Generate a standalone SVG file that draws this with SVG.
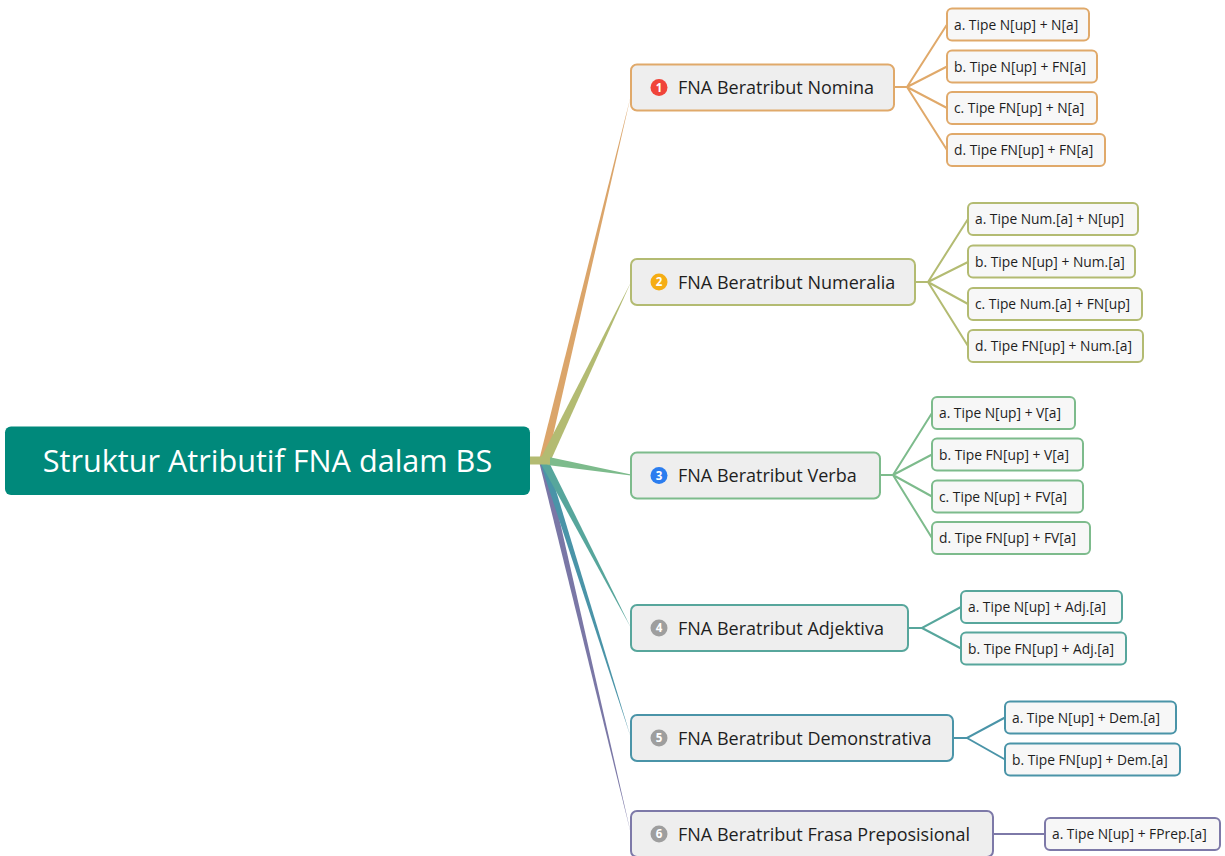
<svg xmlns="http://www.w3.org/2000/svg" width="1225" height="856" viewBox="0 0 1225 856">
<style>
.main{fill:#EEEEEE;stroke-width:2}
.sub{fill:#F7F7F7;stroke-width:2}
.mt{font-family:"Open Sans","Liberation Sans",sans-serif;font-size:18px;fill:#1E1E1E}
.st{font-family:"Open Sans","Liberation Sans",sans-serif;font-size:13.8px;fill:#1E1E1E}
.num{font-family:"Open Sans","Liberation Sans",sans-serif;font-size:11.5px;font-weight:bold;fill:#FFFFFF;text-anchor:middle}
.ln{fill:none;stroke-width:2}
.c1{stroke:#E0A96A}.c2{stroke:#B3BB72}.c3{stroke:#7DBB8C}.c4{stroke:#57A69C}.c5{stroke:#4A94A8}.c6{stroke:#7D79A8}
</style>
<rect width="1225" height="856" fill="#FFFFFF"/>
<g id="connectors">
<polygon points="546.4,462.2 539.6,463.8 631,834" fill="#7A77A6"/>
<polygon points="547.3,461.9 540.7,464.1 631,738" fill="#4A94A8"/>
<polygon points="548.5,461.2 541.5,464.8 631,628" fill="#57A69C"/>
<polygon points="546.9,461.9 539.1,460.1 631,95" fill="#DBA56A"/>
<polygon points="549.5,463.2 540.5,458.8 631,282" fill="#B3BB72"/>
<polygon points="547.3,464.9 548.7,457.1 631.1,474.5 630.9,475.5" fill="#7DBB8C"/>
<rect x="530" y="456.5" width="20" height="8" fill="#B3BB72"/>
<path class="ln c1" d="M894,87 H907 L947,24.5 M907,87 L947,66.5 M907,87 L947,108 M907,87 L947,150"/>
<path class="ln c2" d="M915,282 H928 L968,219 M928,282 L968,262 M928,282 L968,304 M928,282 L968,346"/>
<path class="ln c3" d="M880,475 H893 L932,413 M893,475 L932,454.5 M893,475 L932,496.5 M893,475 L932,538"/>
<path class="ln c4" d="M908,628 H922 L961,607 M922,628 L961,648.5"/>
<path class="ln c5" d="M953,738 H967 L1005,717.5 M967,738 L1005,759.5"/>
<path class="ln c6" d="M993,834 H1045"/>
</g>
<g id="root">
<rect x="5" y="426.5" width="525" height="68.5" rx="6" fill="#00897B"/>
<text x="267.5" y="471.5" font-family="'Open Sans','Liberation Sans',sans-serif" font-size="30.6" fill="#FFFFFF" text-anchor="middle">Struktur Atributif FNA dalam BS</text>
</g>
<g id="n1">
<rect class="main c1" x="631" y="64.5" width="263" height="46" rx="6"/>
<circle cx="659" cy="87.5" r="8.5" fill="#F0443A"/><text class="num" x="659" y="91.5">1</text>
<text class="mt" x="678" y="94">FNA Beratribut Nomina</text>
</g>
<g id="n1a"><rect class="sub c1" x="947" y="8.5" width="142" height="32" rx="5"/><text class="st" x="954" y="29.5">a. Tipe N[up] + N[a]</text></g>
<g id="n1b"><rect class="sub c1" x="947" y="50.5" width="150" height="32" rx="5"/><text class="st" x="954" y="71.5">b. Tipe N[up] + FN[a]</text></g>
<g id="n1c"><rect class="sub c1" x="947" y="92" width="150" height="32" rx="5"/><text class="st" x="954" y="113">c. Tipe FN[up] + N[a]</text></g>
<g id="n1d"><rect class="sub c1" x="947" y="134" width="158" height="32" rx="5"/><text class="st" x="954" y="155">d. Tipe FN[up] + FN[a]</text></g>
<g id="n2">
<rect class="main c2" x="631" y="259" width="284" height="46" rx="6"/>
<circle cx="659" cy="282" r="8.5" fill="#F5AD14"/><text class="num" x="659" y="286">2</text>
<text class="mt" x="678" y="288.5">FNA Beratribut Numeralia</text>
</g>
<g id="n2a"><rect class="sub c2" x="968" y="203" width="170" height="32" rx="5"/><text class="st" x="975" y="224">a. Tipe Num.[a] + N[up]</text></g>
<g id="n2b"><rect class="sub c2" x="968" y="245.5" width="167" height="32" rx="5"/><text class="st" x="975" y="266.5">b. Tipe N[up] + Num.[a]</text></g>
<g id="n2c"><rect class="sub c2" x="968" y="288" width="174" height="32" rx="5"/><text class="st" x="975" y="309">c. Tipe Num.[a] + FN[up]</text></g>
<g id="n2d"><rect class="sub c2" x="968" y="330" width="175" height="32" rx="5"/><text class="st" x="975" y="351">d. Tipe FN[up] + Num.[a]</text></g>
<g id="n3">
<rect class="main c3" x="631" y="452.5" width="249" height="46" rx="6"/>
<circle cx="659" cy="475.5" r="8.5" fill="#2B7DEF"/><text class="num" x="659" y="479.5">3</text>
<text class="mt" x="678" y="482">FNA Beratribut Verba</text>
</g>
<g id="n3a"><rect class="sub c3" x="932" y="397" width="143" height="32" rx="5"/><text class="st" x="939" y="418">a. Tipe N[up] + V[a]</text></g>
<g id="n3b"><rect class="sub c3" x="932" y="438.5" width="151" height="32" rx="5"/><text class="st" x="939" y="459.5">b. Tipe FN[up] + V[a]</text></g>
<g id="n3c"><rect class="sub c3" x="932" y="480.5" width="151" height="32" rx="5"/><text class="st" x="939" y="501.5">c. Tipe N[up] + FV[a]</text></g>
<g id="n3d"><rect class="sub c3" x="932" y="522" width="158" height="32" rx="5"/><text class="st" x="939" y="543">d. Tipe FN[up] + FV[a]</text></g>
<g id="n4">
<rect class="main c4" x="631" y="605" width="277" height="46" rx="6"/>
<circle cx="659" cy="628" r="8.5" fill="#9E9E9E"/><text class="num" x="659" y="632">4</text>
<text class="mt" x="678" y="634.5">FNA Beratribut Adjektiva</text>
</g>
<g id="n4a"><rect class="sub c4" x="961" y="591" width="161" height="32" rx="5"/><text class="st" x="968" y="612">a. Tipe N[up] + Adj.[a]</text></g>
<g id="n4b"><rect class="sub c4" x="961" y="632.5" width="165" height="32" rx="5"/><text class="st" x="968" y="653.5">b. Tipe FN[up] + Adj.[a]</text></g>
<g id="n5">
<rect class="main c5" x="631" y="715" width="322" height="46" rx="6"/>
<circle cx="659" cy="738" r="8.5" fill="#9E9E9E"/><text class="num" x="659" y="742">5</text>
<text class="mt" x="678" y="744.5">FNA Beratribut Demonstrativa</text>
</g>
<g id="n5a"><rect class="sub c5" x="1005" y="701.5" width="171" height="32" rx="5"/><text class="st" x="1012" y="722.5">a. Tipe N[up] + Dem.[a]</text></g>
<g id="n5b"><rect class="sub c5" x="1005" y="743.5" width="175" height="32" rx="5"/><text class="st" x="1012" y="764.5">b. Tipe FN[up] + Dem.[a]</text></g>
<g id="n6">
<rect class="main c6" x="631" y="811" width="362" height="46" rx="6"/>
<circle cx="659" cy="834" r="8.5" fill="#9E9E9E"/><text class="num" x="659" y="838">6</text>
<text class="mt" x="678" y="840.5">FNA Beratribut Frasa Preposisional</text>
</g>
<g id="n6a"><rect class="sub c6" x="1045" y="818" width="175" height="32" rx="5"/><text class="st" x="1052" y="839">a. Tipe N[up] + FPrep.[a]</text></g>
</svg>
